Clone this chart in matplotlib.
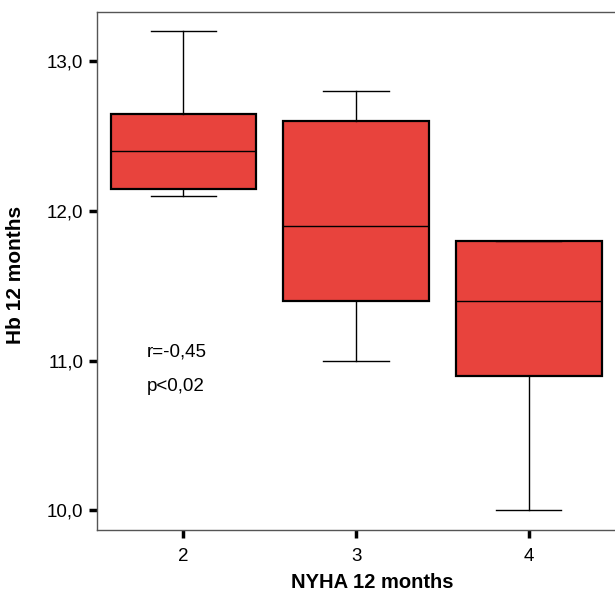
import matplotlib
matplotlib.use("Agg")
import matplotlib.pyplot as plt

plt.rcParams['font.family'] = ['Liberation Sans', 'DejaVu Sans']

categories = [2, 3, 4]
whislo = [12.1, 11.0, 10.0]
q1 = [12.15, 11.4, 10.9]
med = [12.4, 11.9, 11.4]
q3 = [12.65, 12.6, 11.8]
whishi = [13.2, 12.8, 11.8]
yticks = [10.0, 11.0, 12.0, 13.0]
ytick_labels = ["10,0", "11,0", "12,0", "13,0"]

stats = [dict(whislo=a, q1=b, med=c, q3=d, whishi=e, fliers=[])
         for a, b, c, d, e in zip(whislo, q1, med, q3, whishi)]

fig = plt.figure(figsize=(6.15, 5.94), dpi=100)
ax = fig.add_axes([0.158, 0.108, 0.842, 0.872])
ax.bxp(stats, positions=categories, widths=0.845, patch_artist=True,
       showfliers=False,
       boxprops=dict(facecolor='#E8433D', edgecolor='black', linewidth=1.6),
       medianprops=dict(color='black', linewidth=1.0),
       whiskerprops=dict(color='black', linewidth=1.0),
       capprops=dict(color='black', linewidth=1.0),
       capwidths=0.38)
ax.set_xlim(1.5, 4.5)
ax.set_ylim(9.87, 13.33)
ax.set_xticks(categories)
ax.set_xticklabels([str(c) for c in categories])
ax.set_yticks(yticks)
ax.set_yticklabels(ytick_labels)
ax.tick_params(direction='out', length=6, width=2.5, labelsize=13.5, pad=4)
ax.tick_params(axis='x', pad=7)
for s in ax.spines.values():
    s.set_color('#555555')
    s.set_linewidth(1.0)
ax.spines['right'].set_visible(False)
ax.set_xlabel('NYHA 12 months', fontsize=14.5, fontweight='bold')
ax.xaxis.set_label_coords((372 - 97) / 518, -0.083)
ax.set_ylabel('Hb 12 months', fontsize=15, fontweight='bold')
ax.yaxis.set_label_coords(-0.14, 0.493)
ax.text(1.79, 11.056, 'r=-0,45', fontsize=13.5, va='center', ha='left')
ax.text(1.79, 10.83, 'p<0,02', fontsize=13.5, va='center', ha='left')
fig.savefig('out.png', dpi=100)
